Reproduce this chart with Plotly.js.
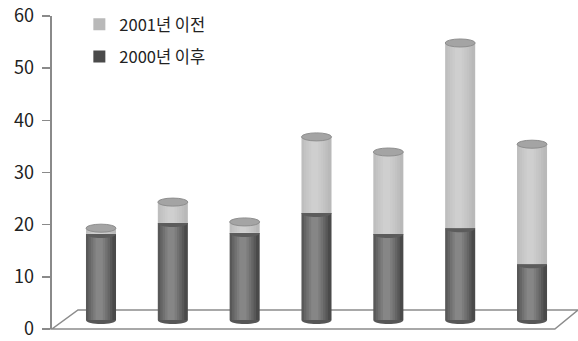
<!DOCTYPE html>
<html>
<head>
<meta charset="utf-8">
<script src="https://cdn.plot.ly/plotly-3.0.1.min.js"></script>
<style>html,body{margin:0;padding:0;background:#fff;}#chart{width:578px;height:341px;}</style>
</head>
<body>
<div id="chart"></div>
<script>
// Data
const categories = [1, 2, 3, 4, 5, 6, 7];
const seriesNames = ['2001년 이전', '2000년 이후'];
const after2000 = [16.5, 18.6, 16.7, 20.5, 16.5, 17.6, 10.7];   // dark, bottom
const before2001 = [1.1, 4.0, 2.1, 14.6, 15.7, 35.5, 23.0];    // light, top
const yTicks = [0, 10, 20, 30, 40, 50, 60];

const xs = categories.map((c, i) => i);
const totals = after2000.map((v, i) => v + before2001[i]);
const W = 0.418;      // cylinder width (x units)
const H = 0.77;       // ellipse half height (y units)
const FONT = '"Noto Sans CJK KR", "Noto Sans", sans-serif';

const traces = [
  {type: 'bar', name: seriesNames[0], x: xs, y: before2001, base: after2000,
   width: W, marker: {color: '#b9b9b9', line: {width: 0}}, xaxis: 'x', yaxis: 'y2',
   legendgroup: 'a', hoverinfo: 'skip'},
  {type: 'bar', name: seriesNames[1], x: xs, y: after2000, base: 0,
   width: W, marker: {color: '#4a4a4a', line: {width: 0}}, xaxis: 'x', yaxis: 'y2',
   legendgroup: 'b', hoverinfo: 'skip'},
  // invisible trace so the main value axis is drawn
  {type: 'scatter', x: [xs[0]], y: [yTicks[0]], mode: 'markers', marker: {opacity: 0},
   xaxis: 'x', yaxis: 'y', showlegend: false, hoverinfo: 'skip'}
];
// cylinder shading (highlight layers over the same values)
[0.88, 0.72, 0.56, 0.4, 0.24].forEach(f => {
  traces.push({type: 'bar', x: xs.map(x => x - 0.025), y: totals, base: 0, width: W * f,
    marker: {color: 'rgba(255,255,255,0.08)', line: {width: 0}},
    xaxis: 'x', yaxis: 'y2', showlegend: false, hoverinfo: 'skip'});
});

const shapes = [];
// floor
shapes.push({type: 'path', xref: 'paper', yref: 'paper', layer: 'below',
  path: 'M0,0 L0.956,0 L1.0,0.0607 L0.0494,0.0607 Z',
  line: {color: '#8c8c8c', width: 1.5}, fillcolor: 'rgba(0,0,0,0)'});
xs.forEach((x, i) => {
  const x0 = x - W / 2, x1 = x + W / 2, k = 1.333 * H;
  // bottom curve
  shapes.push({type: 'path', xref: 'x', yref: 'y2', layer: 'above',
    path: `M${x0},0 C${x0},${-k} ${x1},${-k} ${x1},0 Z`,
    fillcolor: '#565656', line: {width: 0}});
  // dark/light boundary curve
  const d = after2000[i];
  shapes.push({type: 'path', xref: 'x', yref: 'y2', layer: 'above',
    path: `M${x0},${d} C${x0},${d - k} ${x1},${d - k} ${x1},${d} Z`,
    fillcolor: '#5c5c5c', line: {width: 0}});
  // top ellipse
  const t = totals[i];
  shapes.push({type: 'circle', xref: 'x', yref: 'y2', layer: 'above',
    x0: x0, x1: x1, y0: t - H, y1: t + H,
    fillcolor: '#a4a4a4', line: {color: '#8e8e8e', width: 1}});
});

const layout = {
  width: 578, height: 341,
  margin: {l: 52, r: 0, t: 16, b: 12, pad: 0},
  paper_bgcolor: '#fff', plot_bgcolor: 'rgba(0,0,0,0)',
  barmode: 'overlay', showlegend: true,
  xaxis: {range: [-0.682, 6.64], showgrid: false, zeroline: false, showline: false,
    showticklabels: false, ticks: '', fixedrange: true},
  yaxis: {range: [0, 60], tickvals: yTicks, ticktext: yTicks.map(v => String(v) + '\u2005'),
    showgrid: false, zeroline: false, showline: true, linecolor: '#8a8a8a', linewidth: 2,
    ticks: 'outside', ticklen: 8, tickwidth: 1.5, tickcolor: '#8a8a8a',
    tickfont: {family: FONT, size: 18, color: '#222'}},
  yaxis2: {range: [-1.725, 58.275], overlaying: 'y', showgrid: false, zeroline: false,
    showline: false, showticklabels: false, ticks: ''},
  legend: {x: 0.052, y: 1.029, xanchor: 'left', yanchor: 'top', bgcolor: 'rgba(0,0,0,0)',
    font: {family: FONT, size: 16.5, color: '#222'}, tracegroupgap: 8, itemwidth: 30},
  shapes: shapes
};

Plotly.newPlot('chart', traces, layout, {staticPlot: true, displayModeBar: false});
</script>
</body>
</html>
